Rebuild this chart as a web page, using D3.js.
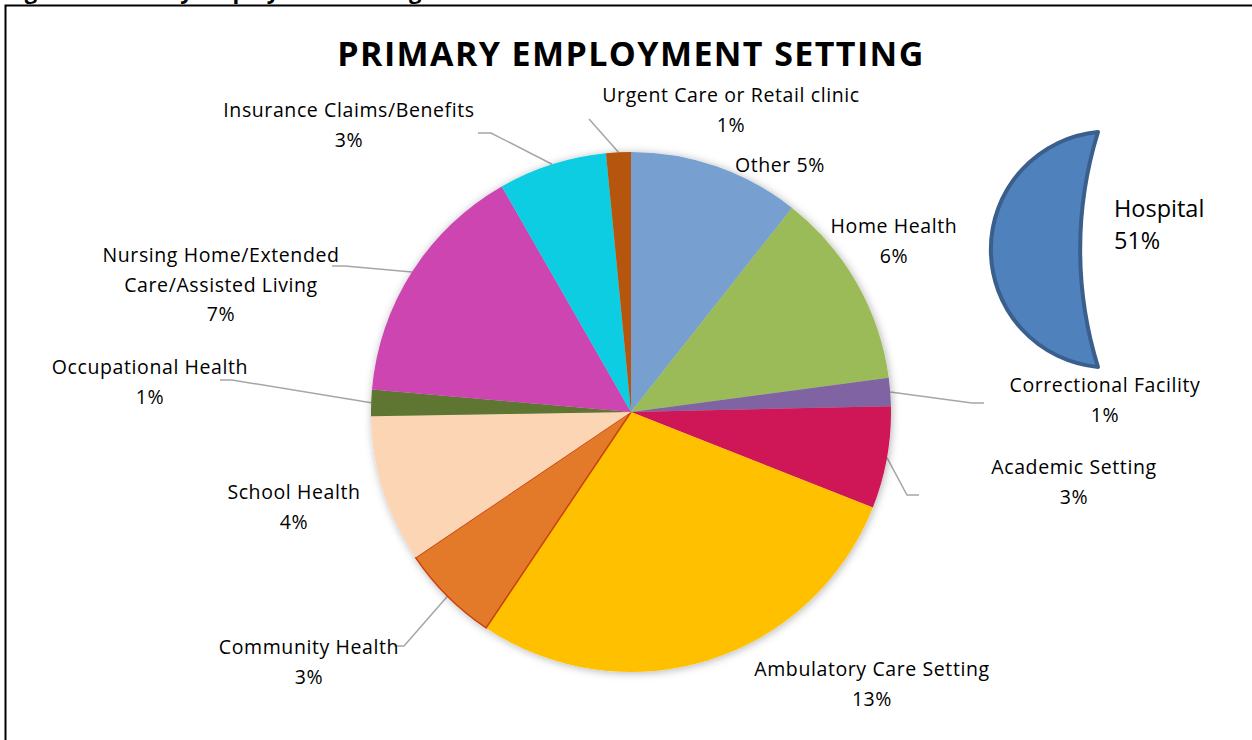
<!DOCTYPE html>
<html>
<head>
<meta charset="utf-8">
<script src="https://cdn.jsdelivr.net/npm/d3@7"></script>
<style>
  body { margin: 0; background: #fff; }
  svg { display: block; font-family: "Open Sans", sans-serif; }
</style>
</head>
<body>
<script>
// Pie data (share of all respondents, Hospital drawn separately)
const categories = ["Other", "Home Health", "Correctional Facility", "Academic Setting",
  "Ambulatory Care Setting", "Community Health", "School Health", "Occupational Health",
  "Nursing Home/Extended Care/Assisted Living", "Insurance Claims/Benefits", "Urgent Care or Retail clinic"];
const values = [5.2, 6.0, 0.85, 3.1, 13.9, 3.0, 4.5, 0.8, 7.5, 3.3, 0.75];
const pctLabels = ["5%", "6%", "1%", "3%", "13%", "3%", "4%", "1%", "7%", "3%", "1%"];
const colors = ["#779fcf", "#9bbb59", "#8064a2", "#cf1356", "#ffc000", "#e27a2c",
  "#fcd5b5", "#5f7530", "#cc44b0", "#0bcde3", "#b65408"];
const hospitalLabel = "Hospital";
const hospitalPct = "51%";

const width = 1252, height = 740;
const cx = 631, cy = 412, radius = 260;

// label layout: text lines, anchor position, leader line (elbow points, from label side)
const layout = [
  { lines: ["Other 5%"], x: 780, y: 166 },
  { lines: ["Home Health", "6%"], x: 894, y: 227 },
  { lines: ["Correctional Facility", "1%"], x: 1105, y: 386, leader: [[984, 403], [972, 403]] },
  { lines: ["Academic Setting", "3%"], x: 1074, y: 468, leader: [[919, 495], [907, 495]] },
  { lines: ["Ambulatory Care Setting", "13%"], x: 872, y: 670 },
  { lines: ["Community Health", "3%"], x: 309, y: 648, leader: [[394, 646], [404, 646]] },
  { lines: ["School Health", "4%"], x: 294, y: 493 },
  { lines: ["Occupational Health", "1%"], x: 150, y: 368, leader: [[220, 380], [232, 380]] },
  { lines: ["Nursing Home/Extended", "Care/Assisted Living", "7%"], x: 221, y: 256, leader: [[332, 266], [345, 266]] },
  { lines: ["Insurance Claims/Benefits", "3%"], x: 349, y: 111, leader: [[478, 133], [491, 133]] },
  { lines: ["Urgent Care or Retail clinic", "1%"], x: 731, y: 96, leader: [[589, 119]] }
];

const svg = d3.select("body").append("svg")
  .attr("width", width)
  .attr("height", height);

const defs = svg.append("defs");
const shadow = defs.append("filter").attr("id", "shadow")
  .attr("x", "-10%").attr("y", "-10%").attr("width", "120%").attr("height", "120%");
shadow.append("feDropShadow")
  .attr("dx", 1).attr("dy", 1)
  .attr("stdDeviation", 4)
  .attr("flood-color", "#000")
  .attr("flood-opacity", 0.3);

// cropped caption above the frame (only descenders show)
svg.append("text")
  .attr("x", 6).attr("y", -1)
  .attr("font-size", 22)
  .attr("font-weight", "bold")
  .text("Figure 1: Primary Employment Setting");

// frame (left and top edges only are visible)
svg.append("path")
  .attr("d", `M5.5,${height} L5.5,5.5 L${width},5.5`)
  .attr("fill", "none")
  .attr("stroke", "#000")
  .attr("stroke-width", 2);

// title
svg.append("text")
  .attr("x", cx).attr("y", 66)
  .attr("text-anchor", "middle")
  .attr("font-size", 34)
  .attr("font-weight", "bold")
  .attr("letter-spacing", 1.4)
  .text("PRIMARY EMPLOYMENT SETTING");

const pie = d3.pie().sort(null).value(d => d)
  .startAngle(0).endAngle(2 * Math.PI);
const arcs = pie(values);
const arc = d3.arc().innerRadius(0).outerRadius(radius);

// leader lines
const leaders = svg.append("g")
  .attr("fill", "none")
  .attr("stroke", "#a6a6a6")
  .attr("stroke-width", 1.5);

arcs.forEach((a, i) => {
  const l = layout[i];
  if (!l.leader) return;
  const mid = (a.startAngle + a.endAngle) / 2;
  const px = cx + radius * Math.sin(mid);
  const py = cy - radius * Math.cos(mid);
  const pts = l.leader.concat([[px, py]]);
  leaders.append("path").attr("d", d3.line()(pts));
});

// pie
const pieG = svg.append("g")
  .attr("transform", `translate(${cx},${cy})`)
  .attr("filter", "url(#shadow)");

pieG.selectAll("path")
  .data(arcs)
  .join("path")
  .attr("d", arc)
  .attr("fill", (d, i) => colors[i])
  .attr("stroke", (d, i) => categories[i] === "Community Health" ? "#c9410c" : "none")
  .attr("stroke-width", 1.5);

// labels
const labelG = svg.append("g")
  .attr("font-size", 19.5)
  .attr("letter-spacing", 0.6)
  .attr("fill", "#000");

layout.forEach((l, i) => {
  const t = labelG.append("text")
    .attr("text-anchor", "middle")
    .attr("x", l.x)
    .attr("y", l.y + 6);
  l.lines.forEach((line, j) => {
    t.append("tspan")
      .attr("x", l.x)
      .attr("dy", j === 0 ? 0 : 29.5)
      .text(line);
  });
});

// Hospital shown as a separate crescent
const hx = 1098, hTop = 132, hBottom = 367;
const outerR = 118, innerR = 396;
svg.append("path")
  .attr("d", `M${hx},${hTop} A${outerR},${outerR} 0 0 0 ${hx},${hBottom} A${innerR},${innerR} 0 0 1 ${hx},${hTop} Z`)
  .attr("fill", "#4f81bd")
  .attr("stroke", "#3a5f8c")
  .attr("stroke-width", 4)
  .attr("stroke-linejoin", "round");

const hText = svg.append("text")
  .attr("font-size", 23.5)
  .attr("x", 1114).attr("y", 217);
hText.append("tspan").attr("x", 1114).text(hospitalLabel);
hText.append("tspan").attr("x", 1114).attr("dy", 32).text(hospitalPct);
</script>
</body>
</html>
